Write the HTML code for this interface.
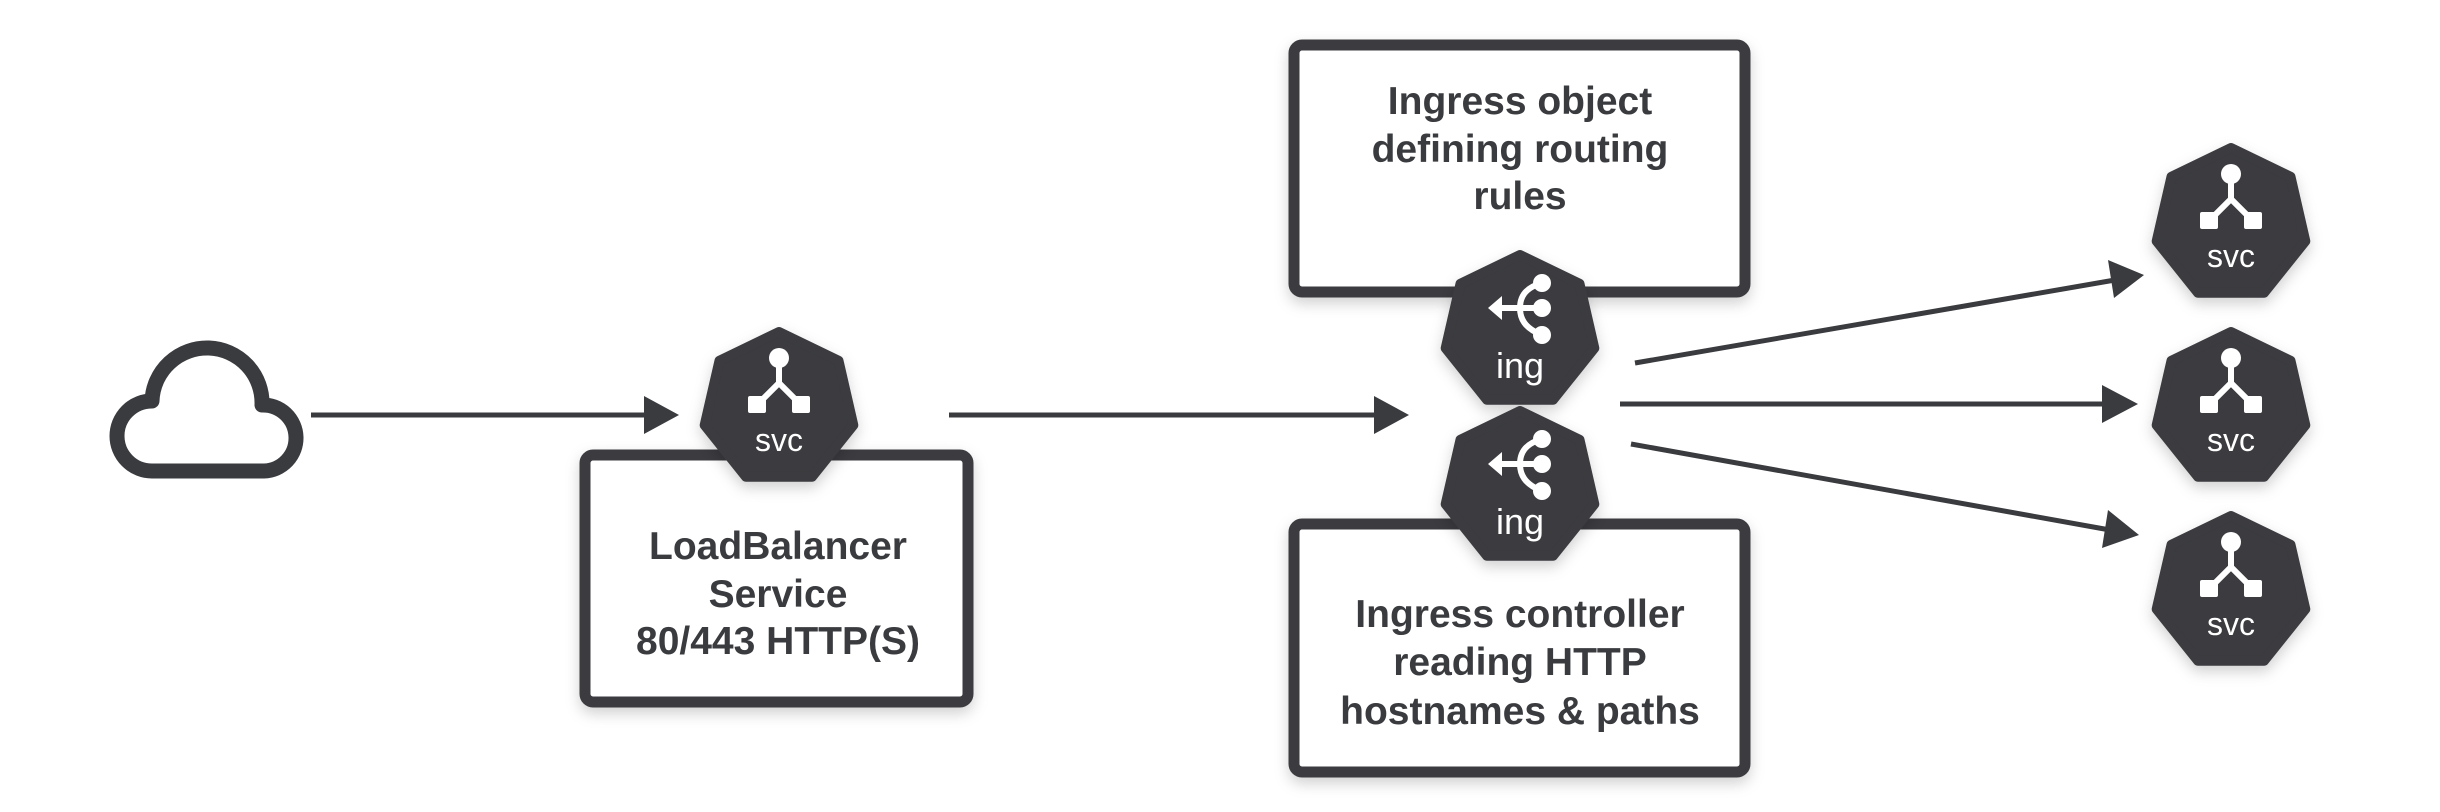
<!DOCTYPE html>
<html><head><meta charset="utf-8"><style>
html,body{margin:0;padding:0;background:#fff;}
svg{display:block;}
text{font-family:"Liberation Sans",sans-serif;}
</style></head><body>
<svg width="2440" height="812" viewBox="0 0 2440 812" xmlns="http://www.w3.org/2000/svg">
<defs>
<filter id="sh" x="-20%" y="-20%" width="140%" height="140%">
<feDropShadow dx="0" dy="6" stdDeviation="7" flood-color="#000" flood-opacity="0.18"/>
</filter>
<path id="hept" d="M0,5 L59.5,33.7 L74.3,98.1 L33,149.8 L-33,149.8 L-74.3,98.1 L-59.5,33.7 Z" stroke-linejoin="round"/>
<g id="svc">
<use href="#hept" fill="#3a3b3f" stroke="#3a3b3f" stroke-width="10" filter="url(#sh)"/>
<circle cx="0" cy="31" r="10" fill="#fff"/>
<path d="M0,31 V56 L-22,78 M0,56 L22,78" stroke="#fff" stroke-width="6" fill="none"/>
<rect x="-31" y="69" width="18" height="17" rx="2" fill="#fff"/>
<rect x="13" y="69" width="18" height="17" rx="2" fill="#fff"/>
<text x="0" y="124" text-anchor="middle" font-size="32" fill="#fff">svc</text>
</g>
<g id="ing">
<use href="#hept" fill="#3a3b3f" stroke="#3a3b3f" stroke-width="10" filter="url(#sh)"/>
<path d="M-28,58 H22 M22,33 C4,38 0,48 0,58 C0,68 4,78 22,85" stroke="#fff" stroke-width="6" fill="none"/>
<path d="M-32,58 L-18,46 L-18,70 Z" fill="#fff"/>
<circle cx="22" cy="33" r="9" fill="#fff"/>
<circle cx="22" cy="58" r="9" fill="#fff"/>
<circle cx="22" cy="85" r="9" fill="#fff"/>
<text x="0" y="128" text-anchor="middle" font-size="36" fill="#fff">ing</text>
</g>
</defs>

<path d="M152,471 H264 A33,33 0 0 0 262,405 A55,55 0 0 0 152,401 A35,35 0 0 0 152,471 Z" fill="none" stroke="#3a3b3f" stroke-width="15" stroke-linejoin="round"/>

<g stroke="#3a3b3f" stroke-width="5" fill="#3a3b3f">
<line x1="311" y1="415" x2="650" y2="415"/>
<path d="M644,396 L679,415 L644,434 Z" stroke="none"/>
<line x1="949" y1="415" x2="1380" y2="415"/>
<path d="M1374,396 L1409,415 L1374,434 Z" stroke="none"/>
<line x1="1635" y1="363" x2="2115" y2="280"/>
<path d="M2108,260 L2144,275 L2114,298 Z" stroke="none"/>
<line x1="1620" y1="404" x2="2108" y2="404"/>
<path d="M2102,385 L2138,404 L2102,423 Z" stroke="none"/>
<line x1="1631" y1="444" x2="2110" y2="530"/>
<path d="M2108,510 L2139,535 L2102,548 Z" stroke="none"/>
</g>

<rect x="585" y="455" width="383" height="247" rx="8" fill="#fff" stroke="#3a3b3f" stroke-width="11" filter="url(#sh)"/>
<rect x="1294" y="45" width="451" height="247" rx="8" fill="#fff" stroke="#3a3b3f" stroke-width="11" filter="url(#sh)"/>
<rect x="1294" y="524" width="451" height="248" rx="8" fill="#fff" stroke="#3a3b3f" stroke-width="11" filter="url(#sh)"/>

<g font-weight="bold" font-size="39" fill="#3a3b3f" text-anchor="middle">
<text x="778" y="559">LoadBalancer</text>
<text x="778" y="607">Service</text>
<text x="778" y="654">80/443 HTTP(S)</text>
<text x="1520" y="114">Ingress object</text>
<text x="1520" y="162">defining routing</text>
<text x="1520" y="209">rules</text>
<text x="1520" y="627">Ingress controller</text>
<text x="1520" y="675">reading HTTP</text>
<text x="1520" y="724">hostnames &amp; paths</text>
</g>

<use href="#svc" x="779" y="327"/>
<use href="#ing" x="1520" y="250"/>
<use href="#ing" x="1520" y="406"/>
<use href="#svc" x="2231" y="143"/>
<use href="#svc" x="2231" y="327"/>
<use href="#svc" x="2231" y="511"/>
</svg>
</body></html>
